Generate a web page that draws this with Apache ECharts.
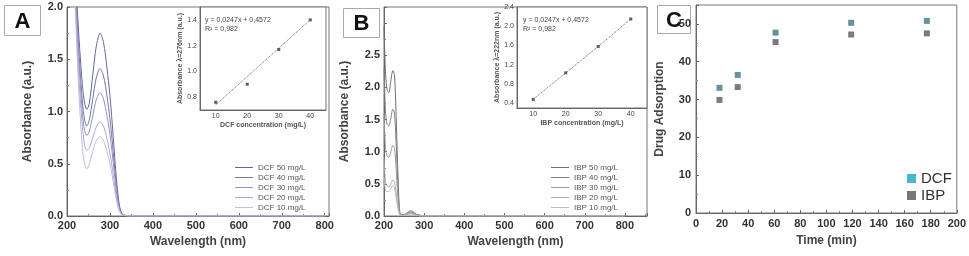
<!DOCTYPE html>
<html>
<head>
<meta charset="utf-8">
<script src="https://cdn.jsdelivr.net/npm/echarts@6/dist/echarts.min.js"></script>
<style>
html,body{margin:0;padding:0;background:#fff;}
#chart{width:969px;height:256px;}
</style>
</head>
<body>
<div id="chart"></div>
<script>
// panel A : DCF spectra
var dcfWave = [212, 220, 228, 236, 241, 246, 252, 260, 268, 277, 285, 293, 300, 305, 310, 315, 320, 325, 332, 345, 400, 500, 600, 700, 800];
var dcf50 = [3.2, 2.3, 1.7, 1.25, 1.08, 1.02, 1.08, 1.35, 1.62, 1.75, 1.66, 1.42, 1.15, 0.9, 0.62, 0.36, 0.16, 0.05, 0.01, 0, 0, 0, 0, 0, 0];
var dcf40 = [3.0, 2.2, 1.55, 1.08, 0.92, 0.86, 0.92, 1.12, 1.32, 1.41, 1.34, 1.15, 0.93, 0.73, 0.5, 0.29, 0.13, 0.04, 0.01, 0, 0, 0, 0, 0, 0];
var dcf30 = [2.9, 2.1, 1.45, 0.98, 0.82, 0.77, 0.81, 0.96, 1.11, 1.18, 1.12, 0.96, 0.78, 0.61, 0.42, 0.24, 0.11, 0.03, 0.01, 0, 0, 0, 0, 0, 0];
var dcf20 = [2.8, 2.0, 1.3, 0.85, 0.68, 0.63, 0.65, 0.75, 0.85, 0.9, 0.86, 0.74, 0.6, 0.47, 0.32, 0.18, 0.08, 0.03, 0.01, 0, 0, 0, 0, 0, 0];
var dcf10 = [2.7, 1.9, 1.15, 0.65, 0.5, 0.45, 0.5, 0.62, 0.72, 0.76, 0.72, 0.62, 0.5, 0.39, 0.27, 0.15, 0.07, 0.02, 0.01, 0, 0, 0, 0, 0, 0];
var dcfNames = ['DCF 50 mg/L', 'DCF 40 mg/L', 'DCF 30 mg/L', 'DCF 20 mg/L', 'DCF 10 mg/L'];

// panel A inset : calibration
var calConc = [10, 20, 30, 40];
var dcfCal = [0.76, 0.90, 1.17, 1.40];
var dcfFit = [0.74, 0.96, 1.18, 1.40];

// panel B : IBP spectra
var ibpWave = [200, 204, 208, 212, 217, 222, 226, 230, 234, 238, 242, 250, 258, 265, 272, 280, 290, 300, 400, 500, 600, 700, 800];
var ibp50 = [2.95, 2.2, 1.95, 1.92, 2.1, 2.26, 2.2, 1.6, 0.8, 0.15, 0.02, 0.02, 0.05, 0.08, 0.07, 0.03, 0.01, 0, 0, 0, 0, 0, 0];
var ibp40 = [2.3, 1.6, 1.42, 1.4, 1.52, 1.66, 1.6, 1.15, 0.55, 0.1, 0.02, 0.02, 0.04, 0.06, 0.05, 0.02, 0.01, 0, 0, 0, 0, 0, 0];
var ibp30 = [1.6, 1.05, 0.93, 0.91, 1.0, 1.1, 1.05, 0.75, 0.35, 0.07, 0.01, 0.01, 0.03, 0.05, 0.04, 0.02, 0.01, 0, 0, 0, 0, 0, 0];
var ibp20 = [0.9, 0.52, 0.46, 0.45, 0.5, 0.56, 0.53, 0.38, 0.18, 0.04, 0.01, 0.01, 0.02, 0.04, 0.03, 0.01, 0, 0, 0, 0, 0, 0, 0];
var ibp10 = [0.6, 0.4, 0.38, 0.38, 0.42, 0.47, 0.44, 0.3, 0.14, 0.03, 0.01, 0.01, 0.02, 0.03, 0.02, 0.01, 0, 0, 0, 0, 0, 0, 0];
var ibpNames = ['IBP 50 mg/L', 'IBP 40 mg/L', 'IBP 30 mg/L', 'IBP 20 mg/L', 'IBP 10 mg/L'];

// panel B inset
var ibpCal = [0.48, 1.03, 1.58, 2.15];
var ibpFit = [0.48, 1.03, 1.58, 2.15];

// panel C : adsorption vs time
var cTime = [18, 32, 61, 119, 177];
var cDcf = [33.1, 36.5, 47.7, 50.3, 50.8];
var cIbp = [29.9, 33.3, 45.2, 47.2, 47.5];

function pairs(xs, ys) {
  return xs.map(function (x, i) { return [x, ys[i]]; });
}

var chart = echarts.init(document.getElementById('chart'));

var tickLab = { color: '#333', fontSize: 11, fontWeight: 'bold', fontFamily: 'Arial' };
var smallLab = { color: '#444', fontSize: 7, fontFamily: 'Arial' };
var axLine = { lineStyle: { color: '#666', width: 1 } };
var tickIn = { inside: true, length: 3, lineStyle: { color: '#666' } };
var minorIn = { show: true, splitNumber: 2, length: 2, lineStyle: { color: '#888' } };
var nameStyle = { color: '#444', fontSize: 12, fontWeight: 'bold', fontFamily: 'Arial' };
var smallName = { color: '#555', fontSize: 7, fontWeight: 'bold', fontFamily: 'Arial' };

function mainX(grid, max) {
  return {
    type: 'value', gridIndex: grid, min: 200, max: max, interval: 100,
    name: 'Wavelength (nm)', nameLocation: 'middle', nameGap: 19, nameTextStyle: nameStyle,
    axisLine: axLine, axisTick: tickIn, minorTick: minorIn, splitLine: { show: false },
    axisLabel: Object.assign({ margin: 4, showMaxLabel: false }, tickLab)
  };
}
function mainY(grid, max) {
  return {
    type: 'value', gridIndex: grid, min: 0, max: max, interval: 0.5,
    name: 'Absorbance (a.u.)', nameLocation: 'middle', nameGap: 33, nameTextStyle: nameStyle,
    axisLine: axLine, axisTick: tickIn, minorTick: minorIn, splitLine: { show: false },
    axisLabel: Object.assign({ margin: 4, formatter: function (v) { return v <= 2.5 ? v.toFixed(1) : ''; } }, tickLab)
  };
}
function insetX(grid, label) {
  return {
    type: 'value', gridIndex: grid, min: 5, max: 45, interval: 5,
    name: label, nameLocation: 'middle', nameGap: 12, nameTextStyle: smallName,
    axisLine: axLine, axisTick: { show: false }, splitLine: { show: false },
    axisLabel: Object.assign({ margin: 3, formatter: function (v) { return v % 10 === 0 ? v : ''; } }, smallLab)
  };
}
function insetY(grid, min, max, step, label) {
  return {
    type: 'value', gridIndex: grid, min: min, max: max, interval: 0.1,
    name: label, nameLocation: 'middle', nameGap: 14, nameTextStyle: smallName,
    axisLine: axLine, axisTick: { show: false }, splitLine: { show: false },
    axisLabel: Object.assign({ margin: 3, formatter: function (v) {
      return Math.round(v * 10) % step === 0 ? v.toFixed(1) : '';
    } }, smallLab)
  };
}

var dcfColors = ['#66669f', '#7474ad', '#9090c2', '#a8a8d2', '#bebee0'];
var ibpColors = ['#707070', '#808080', '#9a9a9a', '#ababab', '#bdbdbd'];
var dcfSets = [dcf50, dcf40, dcf30, dcf20, dcf10];
var ibpSets = [ibp50, ibp40, ibp30, ibp20, ibp10];

var series = [];
dcfSets.forEach(function (d, i) {
  series.push({
    name: dcfNames[i], type: 'line', xAxisIndex: 0, yAxisIndex: 0,
    data: pairs(dcfWave, d), symbol: 'none', smooth: 0.3, clip: true,
    color: dcfColors[i], lineStyle: { width: 1, color: dcfColors[i] }
  });
});
ibpSets.forEach(function (d, i) {
  series.push({
    name: ibpNames[i], type: 'line', xAxisIndex: 2, yAxisIndex: 2,
    data: pairs(ibpWave, d), symbol: 'none', smooth: 0.3, clip: true,
    color: ibpColors[i], lineStyle: { width: 1, color: ibpColors[i] }
  });
});
series.push(
  { type: 'line', xAxisIndex: 1, yAxisIndex: 1, data: pairs(calConc, dcfFit), symbol: 'none',
    lineStyle: { width: 1, type: 'dotted', color: '#666' } },
  { type: 'scatter', xAxisIndex: 1, yAxisIndex: 1, data: pairs(calConc, dcfCal), symbol: 'rect',
    symbolSize: 3, itemStyle: { color: '#333' } },
  { type: 'line', xAxisIndex: 3, yAxisIndex: 3, data: pairs(calConc, ibpFit), symbol: 'none',
    lineStyle: { width: 1, type: 'dotted', color: '#666' } },
  { type: 'scatter', xAxisIndex: 3, yAxisIndex: 3, data: pairs(calConc, ibpCal), symbol: 'rect',
    symbolSize: 3, itemStyle: { color: '#333' } },
  { name: 'DCF', type: 'scatter', xAxisIndex: 4, yAxisIndex: 4, data: pairs(cTime, cDcf),
    symbol: 'rect', symbolSize: 6, itemStyle: { color: '#3f7884' } },
  { name: 'IBP', type: 'scatter', xAxisIndex: 4, yAxisIndex: 4, data: pairs(cTime, cIbp),
    symbol: 'rect', symbolSize: 6, itemStyle: { color: '#565b5d' } }
);

function labelBox(x, y, w, h, letter) {
  return {
    type: 'group', left: x, top: y, z: 100,
    children: [
      { type: 'rect', shape: { x: 0, y: 0, width: w, height: h },
        style: { fill: '#fff', stroke: '#aaa', lineWidth: 1 } },
      { type: 'text', x: w / 2, y: h / 2 + 1,
        style: { text: letter, fill: '#111', font: 'bold 22px Arial', align: 'center', verticalAlign: 'middle' } }
    ]
  };
}
function eqText(x, y) {
  return {
    type: 'text', left: x, top: y, z: 100,
    style: { text: 'y = 0,0247x + 0,4572\nR² = 0,982', fill: '#444', font: '7px Arial', lineHeight: 9 }
  };
}

var lineLegend = { orient: 'vertical', top: 158, icon: 'rect', itemWidth: 18, itemHeight: 1, itemGap: 1,
  textStyle: { fontSize: 8, lineHeight: 9, color: '#555', fontFamily: 'Arial' } };

var option = {
  animation: false,
  textStyle: { fontFamily: 'Arial' },
  grid: [
    { left: 67, top: 7, width: 262, height: 209, show: true, borderColor: '#777', borderWidth: 1 },
    { left: 200, top: 7, width: 126, height: 103, show: true, borderColor: '#777', borderWidth: 1, backgroundColor: '#fff' },
    { left: 384, top: 7, width: 263, height: 209, show: true, borderColor: '#777', borderWidth: 1 },
    { left: 517, top: 7, width: 130, height: 101, show: true, borderColor: '#777', borderWidth: 1, backgroundColor: '#fff' },
    { left: 696, top: 5, width: 262, height: 208, show: true, borderColor: '#777', borderWidth: 1 }
  ],
  xAxis: [
    mainX(0, 810),
    insetX(1, 'DCF concentration (mg/L)'),
    mainX(2, 855),
    insetX(3, 'IBP concentration (mg/L)'),
    {
      type: 'value', gridIndex: 4, min: 0, max: 200, interval: 20,
      name: 'Time (min)', nameLocation: 'middle', nameGap: 22, nameTextStyle: nameStyle,
      axisLine: axLine, axisTick: tickIn, minorTick: minorIn, splitLine: { show: false },
      axisLabel: Object.assign({ margin: 5 }, tickLab)
    }
  ],
  yAxis: [
    mainY(0, 2),
    insetY(1, 0.7, 1.5, 2, 'Absorbance λ=276nm (a.u.)'),
    mainY(2, 3.25),
    insetY(3, 0.3, 2.4, 4, 'Absorbance λ=222nm (a.u.)'),
    {
      type: 'value', gridIndex: 4, min: 0, max: 55, interval: 10,
      name: 'Drug Adsorption', nameLocation: 'middle', nameGap: 30, nameTextStyle: nameStyle,
      axisLine: axLine, axisTick: tickIn, minorTick: minorIn, splitLine: { show: false },
      axisLabel: Object.assign({ margin: 5, showMaxLabel: false }, tickLab)
    }
  ],
  legend: [
    Object.assign({ data: dcfNames, left: 230 }, lineLegend),
    Object.assign({ data: ibpNames, left: 546 }, lineLegend),
    { data: [{ name: 'DCF', itemStyle: { color: '#1aa3c6' } }, { name: 'IBP', itemStyle: { color: '#555' } }],
      orient: 'vertical', left: 902, top: 166, itemWidth: 9, itemHeight: 9, itemGap: 2,
      textStyle: { fontSize: 15, lineHeight: 15, color: '#333', fontFamily: 'Arial' } }
  ],
  graphic: [
    labelBox(4, 5, 36, 30, 'A'),
    labelBox(343, 8, 36, 29, 'B'),
    labelBox(657, 5, 33, 28, 'C'),
    eqText(205, 16),
    eqText(523, 16)
  ],
  series: series
};

chart.setOption(option);
</script>
</body>
</html>
